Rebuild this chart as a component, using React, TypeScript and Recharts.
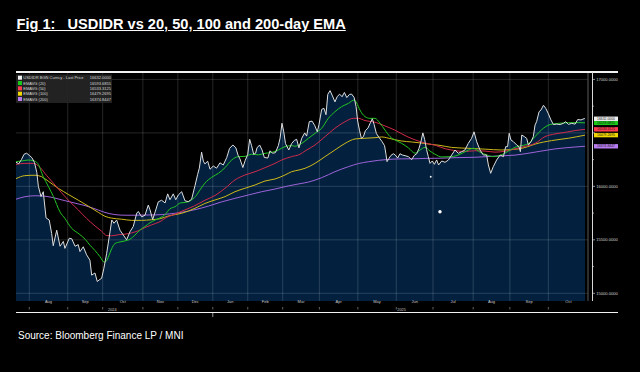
import React from 'react';
import { ComposedChart, Area, Line, XAxis, YAxis, ReferenceLine, ReferenceDot } from 'recharts';

// x = trading-day index (0 = 1 Aug 2024)
const monthStarts = [0, 22, 42, 65, 85, 105, 125, 145, 166, 188, 210, 231, 254, 275, 297];
const monthMids = [11, 32, 53.5, 75, 95, 115, 135, 155.5, 177, 199, 220.5, 242.5, 264.5, 286, 308.5];
const monthLabels = ['Aug', 'Sep', 'Oct', 'Nov', 'Dec', 'Jan', 'Feb', 'Mar', 'Apr', 'May', 'Jun', 'Jul', 'Aug', 'Sep', 'Oct'];
const yearMids = [47.5, 213];
const yearLabels = ['2024', '2025'];
const yearBoundary = 105;
const xDomain: [number, number] = [-7.6, 319.7];
const yDomain: [number, number] = [14928, 17060];
const majorTicks = [15000, 15500, 16000, 16500, 17000];
const hiddenLabelTicks = [16500]; // covered by the value tags in the reference
const yTicks = [15000, 15250, 15500, 15750, 16000, 16250, 16500, 16750, 17000];

const seriesNames = ['USDIDR BGN Curncy - Last Price', 'EMAVG (20)', 'EMAVG (50)', 'EMAVG (100)', 'EMAVG (200)'];
const lastValues = [16632.0, 16593.6855, 16533.3125, 16479.2695, 16374.8447];
const lastLabels = ['16632.0000', '16593.6855', '16533.3125', '16479.2695', '16374.8447'];
const lineColors = ['#dedede', '#22c422', '#cf2a4a', '#cdb81a', '#9d62d8'];
const tagColors = ['#f0f0f0', '#19c819', '#ff3a50', '#f2d600', '#b67cf0'];

const price: [number, number][] = [
  [-7.6, 16225], [-6, 16212], [-4.5, 16250], [-3, 16300], [-1.5, 16310], [0, 16290], [1.5, 16268], [3, 16222],
  [4.3, 16130], [5.2, 16000], [6.7, 15905], [8, 15950], [9.6, 15705], [11.4, 15685], [12.8, 15560], [13.7, 15445],
  [15.7, 15590], [17.6, 15440], [19.5, 15485], [20.4, 15420], [22.9, 15515], [24.3, 15510], [26.2, 15440], [28, 15455],
  [29, 15390], [30.9, 15435], [32.8, 15360], [34.7, 15310], [35.7, 15170], [37.6, 15190], [38.9, 15110], [40, 15125],
  [41.4, 15140], [42.7, 15235], [44.3, 15375], [46.2, 15575], [47.2, 15685], [48.5, 15655], [50, 15685], [51.9, 15590],
  [53.8, 15545], [55.7, 15500], [57.6, 15575], [59.5, 15625], [61.5, 15750], [62.4, 15765], [64.3, 15715], [66.2, 15730],
  [68.1, 15825], [69.1, 15780], [70.6, 15690], [72, 15760], [73.8, 15855], [75.7, 15870], [77.7, 15845], [79.2, 15930],
  [80.5, 15875], [82.4, 15930], [83.8, 15875], [85.3, 15920], [87.2, 15950], [89.1, 15865], [91, 15857], [92.9, 15880],
  [94.8, 16005], [96.3, 16110], [97.3, 16170], [98.6, 16320], [99.6, 16235], [100.5, 16210], [102.1, 16235], [103.4, 16160],
  [105.3, 16190], [107.2, 16170], [109.1, 16220], [111, 16200], [113, 16270], [114.6, 16355], [116.5, 16387], [118.2, 16360],
  [119.5, 16290], [120.6, 16255], [122.2, 16176], [123.5, 16240], [125, 16300], [126.1, 16440], [127.2, 16380], [128.4, 16300],
  [129.5, 16310], [130.3, 16360], [131.8, 16387], [133.2, 16340], [134.5, 16270], [136.5, 16265], [137.7, 16332], [139.3, 16310],
  [140.8, 16315], [142.5, 16380], [143.5, 16450], [144.6, 16590], [145.6, 16510], [146.6, 16400], [148.5, 16340], [150.1, 16400],
  [151.7, 16430], [153, 16440], [154.3, 16360], [155.9, 16450], [157.6, 16500], [158.7, 16470], [160.2, 16605], [161.8, 16610],
  [163.3, 16570], [164.8, 16510], [165.8, 16580], [167.3, 16720], [168.6, 16730], [169.8, 16670], [170.8, 16860], [172.1, 16895],
  [173.5, 16845], [174.9, 16790], [176.2, 16840], [177.6, 16862], [179, 16838], [180.3, 16878], [181.7, 16830], [183.2, 16860],
  [184.5, 16862], [185.9, 16830], [187, 16745], [187.9, 16610], [189, 16520], [190, 16450], [191.2, 16465], [192.3, 16520],
  [193.8, 16545], [195.3, 16600], [196.3, 16632], [197.3, 16580], [198.6, 16495], [200.2, 16455], [201.8, 16420], [203.3, 16380],
  [204.1, 16300], [204.7, 16231], [205.8, 16262], [207, 16290], [208.3, 16305], [209.3, 16295], [210.8, 16265], [212.1, 16305],
  [213.5, 16293], [215, 16287], [216.9, 16278], [218, 16262], [218.8, 16250], [220.3, 16290], [221.7, 16305], [223, 16356],
  [224.1, 16418], [225.2, 16500], [226.2, 16440], [227.3, 16345], [228.3, 16280], [229.3, 16215], [230.6, 16237], [231.8, 16206],
  [233.1, 16247], [234.2, 16200], [236, 16237], [237.9, 16225], [239.8, 16246], [241.7, 16293], [243.6, 16340], [245.5, 16309],
  [247.4, 16324], [249.3, 16340], [251.2, 16402], [253.1, 16449], [254.5, 16510], [256, 16418], [257.9, 16340], [259.8, 16293],
  [261.7, 16293], [262.7, 16200], [264, 16122], [265.5, 16184], [267.4, 16246], [269.4, 16293], [271.3, 16278], [272.6, 16371],
  [273.7, 16371], [274.6, 16496], [275.6, 16434], [277, 16418], [278.9, 16387], [280.2, 16371], [281, 16324], [281.8, 16480],
  [283.3, 16465], [284.6, 16449], [285.6, 16387], [287.1, 16418], [288.4, 16465], [289.4, 16574], [290.3, 16605], [291.7, 16698],
  [292.8, 16714], [294.2, 16758], [295.5, 16730], [297, 16680], [298.5, 16621], [299.9, 16578], [301.8, 16582], [303.7, 16578],
  [305.6, 16589], [306.9, 16605], [308.5, 16580], [310.4, 16589], [312.3, 16582], [313.8, 16625], [315.7, 16621], [317.6, 16634],
  [318, 16632],
];

const ema20: [number, number][] = [
  [-7.6, 16231], [-4.4, 16237], [-0.6, 16246], [2.3, 16240], [4.8, 16215], [8, 16090], [10.9, 16000], [13.8, 15905],
  [17.6, 15760], [20.4, 15700], [24, 15612], [28.5, 15555], [32, 15505], [34.7, 15450], [37.6, 15400], [40.5, 15342],
  [42.8, 15292], [44, 15300], [45.5, 15350], [47.1, 15415], [49, 15465], [51.9, 15480], [54.8, 15490], [57.6, 15505],
  [60.5, 15545], [63.4, 15592], [66.2, 15625], [69.1, 15660], [72, 15685], [74.8, 15705], [77.6, 15735], [80.5, 15790],
  [83.4, 15810], [86.5, 15845], [89.5, 15850], [92.9, 15873], [95.8, 15920], [98, 15975], [100.5, 16030], [104.4, 16085],
  [108.2, 16122], [112, 16175], [115.8, 16246], [119.6, 16278], [123.4, 16280], [127.2, 16300], [131.1, 16295], [134.9, 16309],
  [138.7, 16318], [142.5, 16340], [146.3, 16371], [150.1, 16381], [152, 16375], [155.9, 16402], [159.7, 16449], [163.5, 16496],
  [167.3, 16543], [171.1, 16636], [174.9, 16698], [178.7, 16745], [182.6, 16776], [186, 16808], [187.3, 16780], [189.2, 16714],
  [192.1, 16652], [194.9, 16636], [197.8, 16636], [200.7, 16590], [203.5, 16527], [206.4, 16465], [209.3, 16434], [213.1, 16402],
  [216.9, 16360], [220.7, 16310], [223.6, 16340], [226.4, 16365], [229.3, 16330], [232.2, 16300], [236, 16275], [241.7, 16278],
  [246.5, 16300], [251.2, 16340], [254.1, 16356], [257.9, 16320], [261.7, 16295], [265.5, 16278], [269.4, 16290], [273.2, 16320],
  [277.9, 16365], [281.8, 16381], [285.6, 16400], [289.4, 16465], [293.2, 16530], [298, 16578], [302.7, 16589], [308.5, 16595],
  [314.2, 16596], [318, 16594],
];

const ema50: [number, number][] = [
  [-7.6, 16205], [-2.5, 16215], [2.3, 16215], [6.1, 16178], [10, 16100], [13.8, 16030], [18.5, 15940], [23.3, 15855],
  [28.1, 15779], [32.8, 15700], [37.6, 15630], [41.4, 15580], [44.3, 15540], [47.1, 15538], [51, 15548], [54.8, 15553],
  [58.6, 15565], [62.4, 15585], [66.2, 15615], [70, 15640], [74.8, 15670], [78.6, 15710], [83.4, 15740], [89.1, 15780],
  [94.8, 15820], [100.5, 15870], [106.3, 15915], [112, 15982], [117.7, 16060], [123.4, 16106], [129.2, 16137], [134.9, 16175],
  [140.6, 16215], [144.4, 16246], [150.1, 16278], [154.9, 16300], [157.8, 16331], [163.5, 16387], [169.2, 16465], [174.9, 16543],
  [180.7, 16605], [185.4, 16636], [188.3, 16636], [192.1, 16615], [197.8, 16600], [203.5, 16565], [209.3, 16525], [215, 16475],
  [220.7, 16435], [226.4, 16405], [232.2, 16385], [237.9, 16352], [243.6, 16335], [249.3, 16326], [255, 16333], [260.8, 16330],
  [266.5, 16320], [272.2, 16328], [277.9, 16350], [283.7, 16375], [289.4, 16402], [295.1, 16465], [300.8, 16490], [306.6, 16505],
  [312.3, 16522], [318, 16533],
];

const ema100: [number, number][] = [
  [-7.6, 16072], [-2.5, 16100], [3.3, 16104], [7.1, 16090], [10.9, 16048], [16.6, 15982], [22.3, 15925], [28.1, 15870],
  [33.8, 15815], [39.5, 15757], [43.3, 15720], [47.1, 15703], [52.9, 15693], [58.6, 15682], [64.3, 15682], [70, 15688],
  [74.8, 15697], [80, 15725], [87.2, 15748], [94.8, 15795], [100.5, 15840], [106.3, 15873], [112, 15904], [117.7, 15950],
  [123.4, 15982], [129.2, 16013], [134.9, 16050], [140.6, 16069], [146.3, 16106], [150.1, 16137], [154.9, 16155], [157.8, 16169],
  [163.5, 16215], [169.2, 16278], [174.9, 16340], [180.7, 16402], [186.4, 16443], [192.1, 16450], [197.8, 16455], [201.6, 16462],
  [207.4, 16443], [213.1, 16424], [218.8, 16415], [224.5, 16405], [230.2, 16392], [235, 16383], [241.7, 16364], [251.2, 16356],
  [260.8, 16348], [270.3, 16340], [279.8, 16350], [285, 16370], [289.4, 16395], [298.9, 16428], [308.5, 16450], [318, 16479],
];

const ema200: [number, number][] = [
  [-7.6, 15880], [-2.5, 15903], [3.3, 15912], [9, 15908], [14.7, 15890], [20.4, 15866], [26.2, 15843], [31.9, 15820],
  [37.6, 15790], [43.3, 15756], [49, 15736], [54.8, 15730], [60.5, 15730], [66.2, 15732], [72, 15733], [80, 15742],
  [87.2, 15757], [94.8, 15782], [102.4, 15815], [110.1, 15855], [117.7, 15888], [125.3, 15919], [133, 15950], [140.6, 15975],
  [148.2, 16004], [154.9, 16025], [159.7, 16040], [167.3, 16081], [174.9, 16137], [182.6, 16184], [188.3, 16213], [194, 16230],
  [199.7, 16243], [205.4, 16252], [213.1, 16257], [220.7, 16258], [228.3, 16262], [235, 16263], [243.6, 16268], [255, 16272],
  [266.5, 16283], [277.9, 16292], [289.4, 16320], [300.8, 16350], [312.3, 16368], [318, 16375],
];

const strayDots: [number, number, number][] = [[229.7, 16090, 0.9], [235, 15763, 1.7]];

const toObj = (arr: [number, number][]) => arr.map(([i, v]) => ({ i, v }));
const FONT = '"Liberation Sans", Arial, sans-serif';

const MonthStartTick = (p: any) => {
  const { x, y, payload } = p;
  return (
    <g>
      <line x1={x} x2={x} y1={y} y2={y + 2.5} stroke="#7a7a7a" strokeWidth={0.8} />
      {payload.value === yearBoundary && (
        <line x1={x} x2={x} y1={y + 6} y2={y + 10} stroke="#bdbdbd" strokeWidth={0.8} />
      )}
    </g>
  );
};

const MonthLabelTick = (p: any) => {
  const { x, y, payload } = p;
  const k = monthMids.indexOf(payload.value);
  return (
    <text x={x} y={y + 2.2} fontSize={4} fill="#c8c8c8" textAnchor="middle" fontFamily={FONT}>
      {monthLabels[k]}
    </text>
  );
};

const YearLabelTick = (p: any) => {
  const { x, y, payload } = p;
  const k = yearMids.indexOf(payload.value);
  return (
    <text x={x} y={y + 0.8} fontSize={3.8} fill="#c8c8c8" textAnchor="middle" fontFamily={FONT}>
      {yearLabels[k]}
    </text>
  );
};

const ValueTick = (p: any) => {
  const { x, y, payload } = p;
  const v = payload.value as number;
  const major = majorTicks.includes(v);
  const showLabel = major && !hiddenLabelTicks.includes(v);
  return (
    <g>
      <line x1={x + 4} x2={x + (major ? 7 : 6)} y1={y} y2={y} stroke="#cfcfcf" strokeWidth={0.7} />
      {showLabel && (
        <text x={x + 8.2} y={y} fontSize={4.1} fill="#d0d0d0" dominantBaseline="central" fontFamily={FONT}>
          {v.toFixed(4)}
        </text>
      )}
    </g>
  );
};

const makeTag = (color: string, text: string) => (props: any) => {
  const vb = props.viewBox || {};
  const x = (vb.x || 0) + (vb.width || 0) + 6;
  const y = vb.y || 0;
  return (
    <g>
      <rect x={x} y={y - 2.2} width={24} height={4.4} fill={color} />
      <text x={x + 12} y={y} fontSize={3.4} fill="#1a1a1a" textAnchor="middle" dominantBaseline="central" fontFamily={FONT}>
        {text}
      </text>
    </g>
  );
};

export default function App() {
  const series = [price, ema20, ema50, ema100, ema200].map(toObj);
  return (
    <div style={{ position: 'absolute', left: 0, top: 0, width: 640, height: 372, background: '#000', overflow: 'hidden', fontFamily: FONT }}>
      <div style={{ position: 'absolute', left: 16.5, top: 17, fontSize: 14.6, fontWeight: 700, color: '#fff', textDecoration: 'underline', whiteSpace: 'pre', lineHeight: 1, fontFamily: FONT }}>
        {'Fig 1:   USDIDR vs 20, 50, 100 and 200-day EMA'}
      </div>

      <div style={{ position: 'absolute', left: 0, top: 0 }}>
        <ComposedChart width={640} height={372} margin={{ top: 73, right: 12, bottom: 57, left: 16 }}>
          <XAxis xAxisId="m" type="number" dataKey="i" domain={xDomain} allowDataOverflow ticks={monthStarts} interval={0}
            height={3} tickSize={0} tickMargin={0} tickLine={false} axisLine={false} tick={MonthStartTick} />
          <XAxis xAxisId="l" type="number" dataKey="i" domain={xDomain} allowDataOverflow ticks={monthMids} interval={0}
            height={6} tickSize={0} tickMargin={0} tickLine={false} axisLine={false} tick={MonthLabelTick} />
          <XAxis xAxisId="y" type="number" dataKey="i" domain={xDomain} allowDataOverflow ticks={yearMids} interval={0}
            height={5} tickSize={0} tickMargin={0} tickLine={false} axisLine={false} tick={YearLabelTick} />
          <YAxis yAxisId="v" orientation="right" type="number" domain={yDomain} allowDataOverflow ticks={yTicks} interval={0}
            width={40} tickSize={0} tickMargin={0} tickLine={false} axisLine={{ stroke: '#5a5a5a', strokeWidth: 1 }} tick={ValueTick} />

          <Area xAxisId="m" yAxisId="v" data={series[0]} dataKey="v" type="linear" stroke="none" fill="#03213f" fillOpacity={1}
            isAnimationActive={false} dot={false} activeDot={false} />

          {majorTicks.map((v) => (
            <ReferenceLine key={'h' + v} xAxisId="m" yAxisId="v" y={v} stroke="#ffffff" strokeOpacity={0.15} strokeWidth={1} />
          ))}
          {monthStarts.map((i) => (
            <ReferenceLine key={'v' + i} xAxisId="m" yAxisId="v" x={i} stroke="#ffffff" strokeOpacity={0.15} strokeWidth={1} />
          ))}

          <Line xAxisId="m" yAxisId="v" data={series[4]} dataKey="v" type="monotone" stroke={lineColors[4]} strokeWidth={1} dot={false} isAnimationActive={false} />
          <Line xAxisId="m" yAxisId="v" data={series[3]} dataKey="v" type="monotone" stroke={lineColors[3]} strokeWidth={1} dot={false} isAnimationActive={false} />
          <Line xAxisId="m" yAxisId="v" data={series[2]} dataKey="v" type="monotone" stroke={lineColors[2]} strokeWidth={1} dot={false} isAnimationActive={false} />
          <Line xAxisId="m" yAxisId="v" data={series[1]} dataKey="v" type="monotone" stroke={lineColors[1]} strokeWidth={1} dot={false} isAnimationActive={false} />
          <Line xAxisId="m" yAxisId="v" data={series[0]} dataKey="v" type="linear" stroke={lineColors[0]} strokeWidth={1} dot={false} isAnimationActive={false} />

          {strayDots.map(([i, v, r], k) => (
            <ReferenceDot key={'d' + k} xAxisId="m" yAxisId="v" x={i} y={v} r={r} fill="#ffffff" stroke="none" />
          ))}

          {[4, 3, 2, 1, 0].map((k) => (
            <ReferenceLine key={'t' + k} xAxisId="m" yAxisId="v" y={lastValues[k]} stroke="none" label={makeTag(tagColors[k], lastLabels[k])} />
          ))}
        </ComposedChart>
      </div>

      {/* frame lines of the embedded terminal chart */}
      <div style={{ position: 'absolute', left: 16, top: 71, width: 602, height: 1.5, background: '#f2f2f2' }} />
      <div style={{ position: 'absolute', left: 16, top: 311.5, width: 602, height: 1.5, background: '#f2f2f2' }} />
      <div style={{ position: 'absolute', left: 591.5, top: 72, width: 1, height: 229, background: '#d8d8d8' }} />

      <svg style={{ position: 'absolute', left: 0, top: 0 }} width={640} height={372}>
        <rect x={16} y={74.5} width={96} height={28.5} fill="#262626" fillOpacity={0.9} />
        {seriesNames.map((name, k) => {
          const cy = 77.7 + k * 5.33;
          return (
            <g key={name}>
              <rect x={18} y={cy - 2} width={4} height={4} fill={tagColors[k]} />
              <text x={23.3} y={cy} fontSize={4} fill="#d8d8d8" dominantBaseline="central" fontFamily={FONT}>{name}</text>
              <text x={111} y={cy} fontSize={4} fill="#d8d8d8" dominantBaseline="central" textAnchor="end" fontFamily={FONT}>{lastLabels[k]}</text>
            </g>
          );
        })}
      </svg>

      <div style={{ position: 'absolute', left: 18, top: 331, fontSize: 10, color: '#fff', lineHeight: 1, whiteSpace: 'pre', fontFamily: FONT }}>
        Source: Bloomberg Finance LP / MNI
      </div>
    </div>
  );
}
